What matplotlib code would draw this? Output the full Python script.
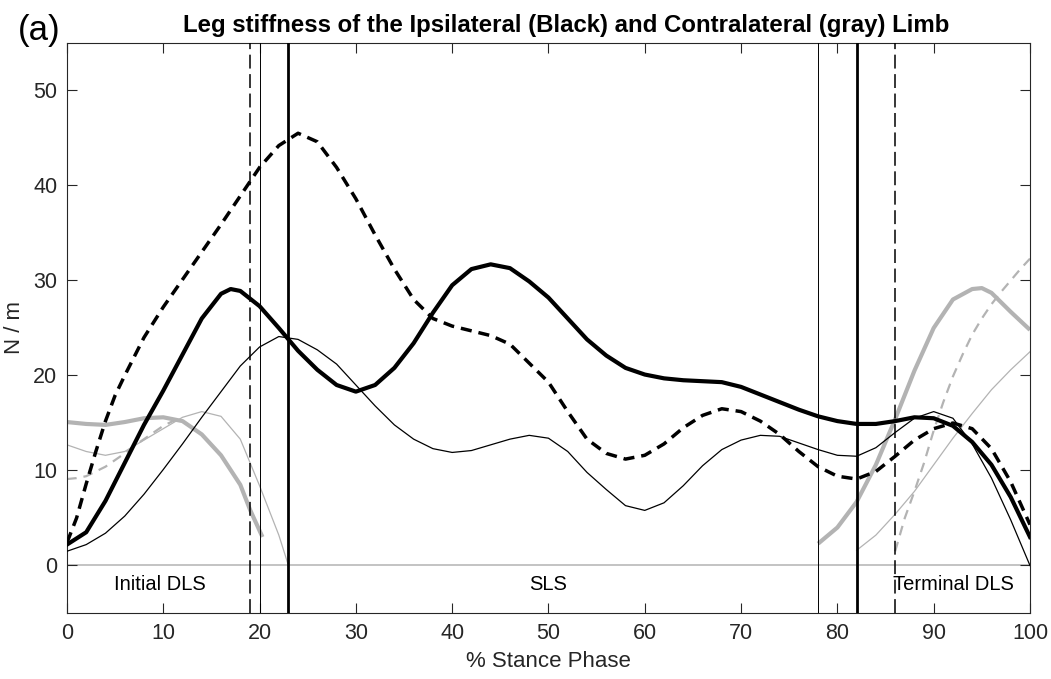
import numpy as np
import matplotlib
matplotlib.use("Agg")
import matplotlib.pyplot as plt

plt.rcParams['font.family'] = ['Liberation Sans', 'DejaVu Sans']
plt.rcParams['lines.scale_dashes'] = False

# ---------------- data ----------------

# ipsilateral limb (black), sampled every 2 % of stance
x_full = np.arange(0, 101, 2)
x_thick = [0, 2, 4, 6, 8, 10, 12, 14, 16, 17, 18, 20, 22, 24, 26, 28, 30,
           32, 34, 36, 38, 40, 42, 44, 46, 48, 50, 52, 54, 56, 58, 60, 62,
           64, 66, 68, 70, 72, 74, 76, 78, 80, 82, 84, 86, 88, 90, 92, 94,
           96, 98, 100]
ipsi_thick = [2.2, 3.5, 6.8, 10.8, 14.8, 18.4, 22.2, 26.0, 28.6, 29.1,
              28.9, 27.3, 25.0, 22.6, 20.6, 19.0, 18.3, 19.0, 20.8, 23.4,
              26.6, 29.5, 31.2, 31.7, 31.3, 29.9, 28.2, 26.0, 23.8, 22.1,
              20.8, 20.1, 19.7, 19.5, 19.4, 19.3, 18.8, 18.0, 17.2, 16.4,
              15.7, 15.2, 14.9, 14.9, 15.2, 15.6, 15.5, 14.7, 13.0, 10.6,
              7.2, 3.0]
ipsi_thin = [1.5, 2.2, 3.4, 5.2, 7.5, 10.1, 12.8, 15.6, 18.3, 21.0,
             23.0, 24.1, 23.8, 22.7, 21.2, 19.0, 16.8, 14.8, 13.3, 12.3,
             11.9, 12.1, 12.7, 13.3, 13.7, 13.4, 12.0, 9.8, 8.0, 6.3,
             5.8, 6.6, 8.4, 10.5, 12.2, 13.2, 13.7, 13.6, 12.9, 12.2,
             11.6, 11.5, 12.4, 14.0, 15.5, 16.2, 15.5, 12.8, 9.2, 4.8,
             0.0]
x_dash = [0, 1, 2, 3, 4, 5, 6, 7, 8, 10, 12, 14, 16, 18, 20, 22, 24, 26,
          28, 30, 32, 34, 36, 38, 40, 42, 44, 46, 48, 50, 52, 54, 56, 58,
          60, 62, 64, 66, 68, 70, 72, 74, 76, 78, 80, 82, 84, 86, 88, 90,
          92, 94, 96, 98, 100]
ipsi_dash = [2.4, 5.0, 8.6, 12.0, 15.2, 17.9, 20.0, 22.0, 24.0, 27.2,
             30.1, 33.0, 35.9, 38.9, 41.9, 44.2, 45.5, 44.6, 41.9, 38.6,
             34.8, 31.2, 28.0, 26.0, 25.2, 24.7, 24.2, 23.3, 21.3, 19.3,
             16.2, 13.3, 11.8, 11.2, 11.6, 12.8, 14.5, 15.8, 16.5, 16.2,
             15.2, 13.8, 12.0, 10.4, 9.4, 9.1, 9.9, 11.5, 13.2, 14.4,
             15.0, 14.4, 12.3, 8.8, 4.3]

# contralateral limb (gray), only drawn in the double limb support phases
contra_thick_x1 = [0, 2, 4, 6, 8, 10, 12, 14, 16, 18, 19, 20.3]
contra_thick_y1 = [15.1, 14.9, 14.8, 15.1, 15.5, 15.6, 15.2, 13.8, 11.6, 8.5, 5.9, 3.0]
contra_thick_x2 = [78, 80, 82, 84, 86, 88, 90, 92, 94, 95, 96, 98, 100]
contra_thick_y2 = [2.3, 4.0, 6.7, 10.6, 15.4, 20.5, 25.0, 28.0, 29.1, 29.2, 28.7, 26.7, 24.8]
contra_thin_x1 = [0, 2, 4, 6, 8, 10, 12, 14, 16, 18, 20, 22, 23]
contra_thin_y1 = [12.7, 12.0, 11.6, 12.0, 13.2, 14.4, 15.6, 16.2, 15.7, 13.3, 8.4, 3.2, 0.0]
contra_thin_x2 = [82, 84, 86, 88, 90, 92, 94, 96, 98, 100]
contra_thin_y2 = [1.6, 3.2, 5.4, 7.8, 10.6, 13.4, 16.0, 18.5, 20.6, 22.5]
contra_dash_x1 = [0, 1, 2, 3, 4, 5, 6, 7, 8, 9, 10, 11, 12]
contra_dash_y1 = [9.1, 9.2, 9.4, 9.9, 10.4, 11.1, 11.8, 12.6, 13.3, 14.0, 14.7, 15.2, 15.6]
contra_dash_x2 = [86, 87, 88, 89, 90, 91, 92, 93, 94, 95, 96, 97, 98, 99, 100]
contra_dash_y2 = [1.5, 5.0, 7.8, 10.8, 14.2, 17.2, 19.9, 22.2, 24.3, 26.0, 27.5, 28.8, 30.0, 31.2, 32.3]

# gait events (% stance)
events_dashed = [19, 86]
events_thin = [20, 78]
events_thick = [23, 82]

phase_names = ["Initial DLS", "SLS", "Terminal DLS"]
phase_pos = [9.6, 50, 92.1]

GRAY = "#b3b3b3"
INK = "#262626"

# ---------------- figure ----------------

fig = plt.figure(figsize=(10.51, 6.79), dpi=100)
ax = fig.add_axes([0.0637, 0.0972, 0.9163, 0.8395])

ax.axhline(0, color=GRAY, lw=1.1, zorder=1)

# contralateral (gray)
for xs, ys in [(contra_thick_x1, contra_thick_y1), (contra_thick_x2, contra_thick_y2)]:
    ax.plot(xs, ys, color=GRAY, lw=3.0, solid_capstyle='butt', zorder=2)
for xs, ys in [(contra_thin_x1, contra_thin_y1), (contra_thin_x2, contra_thin_y2)]:
    ax.plot(xs, ys, color=GRAY, lw=0.9, zorder=2)
for xs, ys in [(contra_dash_x1, contra_dash_y1), (contra_dash_x2, contra_dash_y2)]:
    ax.plot(xs, ys, color=GRAY, lw=1.6, linestyle=(0, (7, 5)), zorder=2)

# ipsilateral (black)
ax.plot(x_full, ipsi_thin, color='black', lw=0.9, zorder=3)
ax.plot(x_dash, ipsi_dash, color='black', lw=2.5, linestyle=(0, (8, 5)), zorder=3)
ax.plot(x_thick, ipsi_thick, color='black', lw=3.0, zorder=3)

# stance phase events
for e in events_dashed:
    ax.axvline(e, color='black', lw=1.1, linestyle=(0, (10, 4)), zorder=4)
for e in events_thin:
    ax.axvline(e, color='black', lw=0.7, zorder=4)
for e in events_thick:
    ax.axvline(e, color='black', lw=2.0, zorder=4)

for name, pos in zip(phase_names, phase_pos):
    ax.text(pos, -2.0, name, ha='center', va='center', fontsize=14.5, color='black')

ax.set_xlim(0, 100)
ax.set_ylim(-5, 55)
ax.set_xticks(range(0, 101, 10))
ax.set_yticks(range(0, 51, 10))
ax.tick_params(direction='in', length=7, width=0.8, top=True, right=True,
               labelsize=15.5, labelcolor=INK, colors=INK, pad=7)
for s in ax.spines.values():
    s.set_linewidth(0.8)
    s.set_color(INK)

ax.set_xlabel("% Stance Phase", fontsize=16, color=INK, labelpad=5)
ax.set_ylabel("N / m", fontsize=16, color=INK, labelpad=6)
ax.set_title("Leg stiffness of the Ipsilateral (Black) and Contralateral (gray) Limb",
             fontsize=17.3, fontweight='bold', pad=8, x=0.518)
fig.text(0.017, 0.955, "(a)", fontsize=25, ha='left', va='center')

fig.savefig("out.png", dpi=100)
